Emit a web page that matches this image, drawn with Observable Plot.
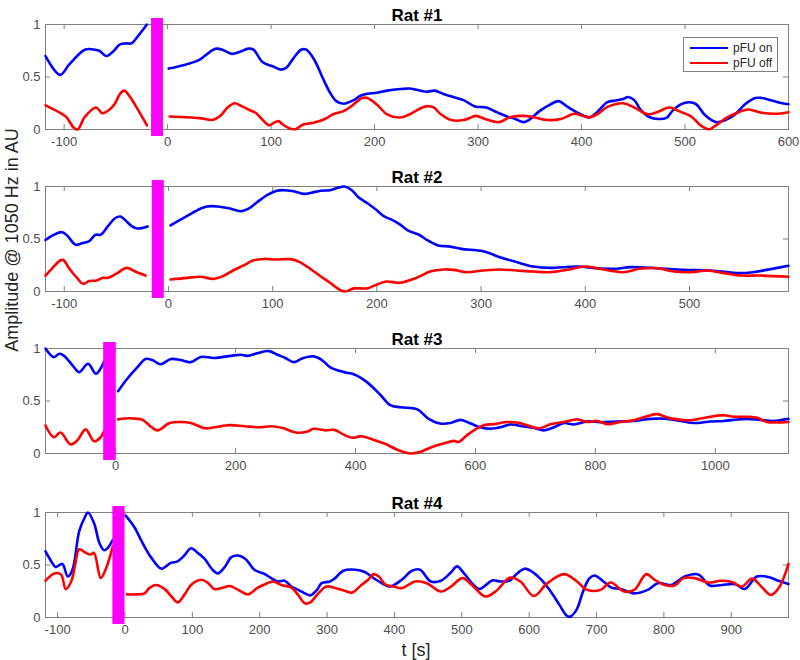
<!DOCTYPE html>
<html>
<head>
<meta charset="utf-8">
<script src="https://cdn.jsdelivr.net/npm/d3@7"></script>
<script src="https://cdn.jsdelivr.net/npm/@observablehq/plot@0.6"></script>
<style>
  body { margin: 0; background: #fff; }
  #root { position: relative; width: 800px; height: 660px; background: #fff; font-family: "Liberation Sans", Arial, sans-serif; }
  .panel { position: absolute; left: 0; }
  #ylab { position: absolute; left: 12px; top: 240px; transform: translate(-50%, -50%) rotate(-90deg); white-space: nowrap; font-size: 18px; color: #262626; }
  #xlab { position: absolute; left: 416px; top: 650px; transform: translate(-50%, -50%); white-space: nowrap; font-size: 18px; color: #262626; }
  #legend { position: absolute; left: 683px; top: 37px; width: 93px; height: 33px; border: 1px solid #808080; background: #fff; font-size: 12px; color: #262626; }
  .row { position: absolute; left: 6px; height: 14px; display: flex; align-items: center; }
  .sw { width: 38px; height: 2.6px; margin-right: 5px; }
</style>
</head>
<body>
<div id="root">
  <div id="ylab">Amplitude @ 1050 Hz in AU</div>
  <div id="xlab">t [s]</div>
</div>
<script>
// ---------------- data ----------------
const seriesNames = ["pFU on", "pFU off"];
const ratTitles = ["Rat #1", "Rat #2", "Rat #3", "Rat #4"];
const xDomains = [[-118, 600], [-118, 595], [-117, 1122], [-118, 985]];
const xTicks = [
  [-100, 0, 100, 200, 300, 400, 500, 600],
  [-100, 0, 100, 200, 300, 400, 500],
  [0, 200, 400, 600, 800, 1000],
  [-100, 0, 100, 200, 300, 400, 500, 600, 700, 800, 900]
];
const yTicks = [0, 0.5, 1];
// stimulation (pFU switch) interval per rat, [start, end] in s
const barIntervals = [[-15.5, -4], [-15.5, -4], [-20, 1], [-18, 0]];

// Rat #1
const rat1OnPre = [[-118,0.70],[-104,0.52],[-95,0.62],[-80,0.76],[-70,0.76],[-66,0.75],[-59,0.70],[-53,0.74],[-46,0.81],[-40,0.82],[-35,0.82],[-29,0.885],[-20,1.0]];
const rat1OffPre = [[-118,0.23],[-106,0.17],[-98,0.12],[-91,0.02],[-87,0],[-80,0.12],[-69,0.21],[-63,0.155],[-56,0.19],[-51,0.245],[-46,0.34],[-42,0.37],[-37,0.32],[-30,0.21],[-20,0.04]];
const rat1OnPost = [[1,0.58],[18,0.62],[31,0.665],[41,0.74],[47,0.77],[54,0.755],[62,0.72],[70,0.74],[78,0.77],[83,0.76],[92,0.64],[102,0.60],[110,0.57],[115,0.59],[121,0.67],[129,0.76],[134,0.76],[142,0.66],[149,0.51],[157,0.35],[163,0.27],[170,0.245],[180,0.28],[186,0.32],[193,0.34],[202,0.35],[212,0.37],[225,0.385],[234,0.39],[250,0.36],[258,0.37],[266,0.34],[276,0.31],[286,0.28],[297,0.22],[308,0.21],[318,0.165],[328,0.124],[336,0.10],[344,0.07],[349,0.09],[360,0.18],[370,0.24],[378,0.27],[386,0.22],[396,0.16],[404,0.124],[408,0.117],[415,0.165],[425,0.26],[433,0.276],[440,0.29],[445,0.31],[451,0.28],[457,0.19],[466,0.117],[474,0.10],[482,0.11],[488,0.18],[496,0.24],[504,0.26],[511,0.24],[519,0.14],[530,0.07],[538,0.086],[548,0.14],[558,0.24],[568,0.30],[574,0.30],[584,0.276],[594,0.25],[600,0.24]];
const rat1OffPost = [[2,0.124],[18,0.117],[31,0.108],[44,0.092],[51,0.13],[58,0.21],[65,0.25],[71,0.225],[78,0.19],[85,0.16],[91,0.10],[98,0.04],[102,0.06],[107,0.08],[111,0.05],[118,0.01],[124,0.005],[131,0.048],[141,0.064],[152,0.10],[160,0.145],[170,0.175],[178,0.225],[188,0.30],[193,0.30],[202,0.24],[212,0.145],[225,0.115],[234,0.145],[244,0.2],[250,0.22],[257,0.21],[264,0.145],[274,0.09],[286,0.09],[292,0.11],[298,0.13],[307,0.10],[320,0.07],[331,0.117],[344,0.13],[354,0.117],[367,0.09],[380,0.10],[393,0.15],[401,0.13],[408,0.117],[415,0.145],[425,0.215],[440,0.25],[451,0.21],[464,0.145],[474,0.17],[485,0.21],[494,0.175],[506,0.124],[515,0.04],[523,0.003],[530,0.04],[540,0.11],[548,0.15],[561,0.19],[574,0.16],[587,0.15],[600,0.165]];

// Rat #2
const rat2OnPre = [[-118,0.49],[-112,0.53],[-102,0.565],[-97,0.53],[-89,0.445],[-83,0.46],[-76,0.48],[-70,0.54],[-65,0.54],[-59,0.61],[-51,0.70],[-46,0.714],[-41,0.675],[-35,0.62],[-30,0.60],[-20,0.62]];
const rat2OffPre = [[-118,0.152],[-112,0.216],[-104,0.295],[-101,0.30],[-95,0.216],[-87,0.12],[-82,0.073],[-76,0.10],[-69,0.105],[-63,0.13],[-58,0.13],[-50,0.17],[-40,0.225],[-32,0.19],[-22,0.152]];
const rat2OnPost = [[2,0.63],[18,0.72],[31,0.79],[37,0.81],[47,0.81],[59,0.79],[69,0.765],[77,0.79],[85,0.85],[95,0.92],[104,0.96],[110,0.965],[120,0.955],[130,0.93],[137,0.94],[146,0.96],[155,0.965],[163,0.99],[169,1.0],[176,0.965],[182,0.90],[191,0.84],[199,0.78],[207,0.715],[215,0.68],[222,0.64],[230,0.58],[240,0.543],[249,0.486],[259,0.438],[269,0.43],[281,0.406],[302,0.384],[318,0.327],[334,0.28],[350,0.238],[366,0.225],[392,0.238],[414,0.219],[430,0.216],[443,0.232],[469,0.222],[494,0.206],[520,0.20],[548,0.175],[561,0.184],[574,0.206],[595,0.245]];
const rat2OffPost = [[2,0.114],[18,0.13],[31,0.14],[43,0.12],[53,0.15],[62,0.20],[72,0.248],[81,0.295],[91,0.31],[104,0.305],[117,0.308],[126,0.28],[136,0.216],[145,0.152],[155,0.083],[163,0.025],[169,0.0],[178,0.03],[184,0.03],[191,0.03],[200,0.067],[209,0.095],[222,0.083],[238,0.13],[251,0.19],[264,0.21],[274,0.206],[286,0.184],[302,0.2],[318,0.21],[334,0.2],[350,0.19],[366,0.184],[382,0.206],[400,0.238],[414,0.216],[436,0.184],[452,0.216],[469,0.222],[485,0.19],[501,0.184],[517,0.2],[533,0.175],[549,0.152],[568,0.152],[595,0.14]];

// Rat #3
const rat3OnPre = [[-117,1.0],[-103,0.917],[-94,0.95],[-86,0.93],[-72,0.84],[-61,0.775],[-46,0.855],[-33,0.76],[-25,0.81],[-19,0.88]];
const rat3OffPre = [[-117,0.267],[-103,0.155],[-92,0.2],[-75,0.086],[-64,0.124],[-50,0.23],[-36,0.117],[-25,0.155],[-19,0.216]];
const rat3OnPost = [[4,0.593],[19,0.71],[36,0.82],[50,0.9],[61,0.89],[75,0.85],[92,0.9],[108,0.89],[125,0.87],[142,0.92],[164,0.91],[192,0.93],[208,0.94],[220,0.93],[236,0.955],[256,0.975],[270,0.94],[283,0.91],[297,0.87],[311,0.905],[330,0.925],[344,0.89],[358,0.82],[381,0.775],[397,0.755],[419,0.68],[442,0.555],[458,0.46],[475,0.44],[503,0.42],[522,0.33],[541,0.285],[558,0.29],[575,0.32],[592,0.285],[608,0.25],[625,0.236],[642,0.25],[658,0.276],[681,0.257],[697,0.245],[714,0.22],[731,0.25],[748,0.29],[764,0.276],[786,0.305],[808,0.298],[836,0.305],[864,0.31],[892,0.33],[920,0.33],[942,0.31],[964,0.29],[992,0.305],[1014,0.31],[1031,0.32],[1053,0.33],[1075,0.32],[1097,0.31],[1122,0.33]];
const rat3OffPost = [[4,0.325],[25,0.335],[45,0.32],[60,0.25],[70,0.22],[90,0.29],[110,0.3],[125,0.29],[150,0.24],[165,0.25],[190,0.27],[215,0.26],[240,0.25],[260,0.26],[280,0.24],[300,0.2],[320,0.21],[330,0.235],[350,0.22],[365,0.225],[380,0.18],[395,0.15],[410,0.165],[430,0.13],[450,0.09],[470,0.035],[492,0.0],[508,0.016],[531,0.07],[547,0.095],[564,0.12],[572,0.11],[586,0.175],[600,0.23],[614,0.27],[631,0.28],[653,0.3],[669,0.295],[686,0.27],[706,0.24],[726,0.28],[748,0.3],[770,0.325],[786,0.3],[803,0.31],[820,0.28],[842,0.3],[864,0.317],[886,0.355],[903,0.375],[920,0.343],[936,0.325],[958,0.317],[975,0.333],[997,0.355],[1014,0.365],[1031,0.35],[1053,0.35],[1070,0.34],[1086,0.3],[1103,0.295],[1122,0.3]];

// Rat #4
const rat4OnPre = [[-118,0.63],[-108,0.52],[-103,0.48],[-93,0.51],[-85,0.39],[-78,0.455],[-68,0.82],[-60,0.95],[-55,1.0],[-46,0.9],[-38,0.71],[-31,0.64],[-26,0.66],[-18,0.74]];
const rat4OffPre = [[-118,0.35],[-105,0.42],[-95,0.41],[-88,0.27],[-80,0.34],[-74,0.5],[-68,0.65],[-58,0.615],[-51,0.6],[-46,0.615],[-36,0.375],[-28,0.47],[-18,0.68]];
const rat4OnPost = [[1,0.97],[14,0.86],[26,0.71],[39,0.57],[54,0.465],[68,0.52],[78,0.535],[88,0.59],[98,0.66],[108,0.615],[118,0.56],[130,0.455],[138,0.42],[148,0.48],[158,0.575],[168,0.59],[180,0.55],[192,0.455],[207,0.415],[217,0.375],[227,0.343],[237,0.35],[247,0.295],[257,0.263],[267,0.23],[275,0.21],[285,0.263],[292,0.327],[304,0.343],[312,0.375],[324,0.445],[342,0.455],[356,0.433],[369,0.375],[384,0.317],[394,0.295],[411,0.36],[426,0.445],[438,0.455],[454,0.343],[469,0.35],[483,0.423],[493,0.487],[503,0.423],[515,0.327],[526,0.272],[536,0.31],[545,0.353],[558,0.343],[570,0.35],[583,0.423],[593,0.465],[605,0.433],[618,0.36],[632,0.247],[645,0.12],[655,0.022],[660,0.006],[670,0.07],[680,0.247],[689,0.37],[697,0.4],[709,0.35],[722,0.285],[736,0.272],[756,0.23],[776,0.263],[791,0.327],[811,0.31],[831,0.39],[851,0.41],[868,0.305],[886,0.31],[906,0.317],[920,0.272],[938,0.39],[955,0.385],[970,0.35],[985,0.32]];
const rat4OffPost = [[3,0.22],[19,0.22],[29,0.23],[36,0.28],[46,0.31],[59,0.27],[69,0.2],[78,0.144],[88,0.215],[98,0.31],[113,0.36],[123,0.33],[133,0.27],[146,0.285],[156,0.3],[168,0.263],[183,0.22],[196,0.28],[208,0.317],[220,0.343],[232,0.31],[247,0.285],[257,0.215],[267,0.135],[275,0.144],[287,0.23],[299,0.295],[312,0.28],[327,0.253],[337,0.237],[351,0.31],[361,0.36],[369,0.413],[377,0.39],[386,0.317],[399,0.295],[411,0.28],[431,0.343],[448,0.327],[469,0.247],[484,0.295],[501,0.375],[515,0.31],[535,0.2],[550,0.247],[572,0.38],[587,0.343],[607,0.205],[627,0.327],[652,0.413],[671,0.343],[686,0.263],[706,0.263],[721,0.333],[741,0.247],[756,0.263],[774,0.413],[786,0.36],[801,0.31],[816,0.305],[829,0.375],[846,0.375],[866,0.333],[884,0.35],[901,0.337],[916,0.295],[931,0.37],[946,0.285],[959,0.215],[971,0.285],[985,0.51]];

const onSeries = [[rat1OnPre, rat1OnPost], [rat2OnPre, rat2OnPost], [rat3OnPre, rat3OnPost], [rat4OnPre, rat4OnPost]];
const offSeries = [[rat1OffPre, rat1OffPost], [rat2OffPre, rat2OffPost], [rat3OffPre, rat3OffPost], [rat4OffPre, rat4OffPost]];

// ---------------- drawing ----------------
const BLUE = "#0000ff", RED = "#ff0000", MAGENTA = "#ff00ff", GRID = "#808080", TXT = "#4d4d4d";
const panelTops = [0, 162, 324, 488];
const W = 800, H = 160, MT = 24, MB = 31, ML = 45, MR = 12;
const boxW = W - ML - MR, boxH = H - MT - MB, TICK = 5;
const root = document.getElementById("root");

function lineMarks(segments, color) {
  return segments.map(seg => Plot.line(seg, {
    x: d => d[0], y: d => d[1], stroke: color, strokeWidth: 2.6,
    curve: "catmull-rom", strokeLinejoin: "round", strokeLinecap: "round"
  }));
}

ratTitles.forEach((title, i) => {
  const bar = [{x1: barIntervals[i][0], x2: barIntervals[i][1]}];
  const [x0, x1] = xDomains[i];
  const chart = Plot.plot({
    width: W, height: H,
    marginTop: MT, marginBottom: MB, marginLeft: ML, marginRight: MR,
    style: {fontFamily: '"Liberation Sans", Arial, sans-serif', fontSize: "13px", color: TXT, background: "transparent", overflow: "visible"},
    x: {domain: xDomains[i], axis: null},
    y: {domain: [0, 1], axis: null},
    marks: [
      Plot.frame({stroke: GRID, strokeWidth: 1}),
      // tick labels
      Plot.axisX(xTicks[i], {anchor: "bottom", tickSize: 0, tickPadding: 7, tickFormat: d => String(d), label: null, fill: TXT}),
      Plot.axisY(yTicks, {anchor: "left", tickSize: 0, tickPadding: 5, tickFormat: d => String(d), label: null, fill: TXT}),
      // inward tick marks (bottom, top, left, right); y1 = top (1), y2 = bottom (0)
      Plot.ruleX(xTicks[i], {x: d => d, y1: 1, y2: 0, insetTop: boxH - TICK, stroke: GRID}),
      Plot.ruleX(xTicks[i], {x: d => d, y1: 1, y2: 0, insetBottom: boxH - TICK, stroke: GRID}),
      Plot.ruleY(yTicks, {y: d => d, x1: x0, x2: x1, insetRight: boxW - TICK, stroke: GRID}),
      Plot.ruleY(yTicks, {y: d => d, x1: x0, x2: x1, insetLeft: boxW - TICK, stroke: GRID}),
      ...lineMarks(onSeries[i], BLUE),
      ...lineMarks(offSeries[i], RED),
      Plot.rect(bar, {x1: "x1", x2: "x2", y1: 0, y2: 1, fill: MAGENTA, insetTop: -6, insetBottom: -7}),
      Plot.text([title], {text: d => d, frameAnchor: "top", dy: -16, fontWeight: "bold", fontSize: 17, fill: "#000"})
    ]
  });
  const wrap = document.createElement("div");
  wrap.className = "panel";
  wrap.style.top = panelTops[i] + "px";
  wrap.appendChild(chart);
  root.appendChild(wrap);
});

// legend (inside Rat #1 panel)
const legend = document.createElement("div");
legend.id = "legend";
[[seriesNames[0], BLUE, 3], [seriesNames[1], RED, 18]].forEach(([name, color, top]) => {
  const row = document.createElement("div");
  row.className = "row";
  row.style.top = top + "px";
  const sw = document.createElement("div");
  sw.className = "sw";
  sw.style.background = color;
  const label = document.createElement("span");
  label.textContent = name;
  row.appendChild(sw);
  row.appendChild(label);
  legend.appendChild(row);
});
root.appendChild(legend);
</script>
</body>
</html>
